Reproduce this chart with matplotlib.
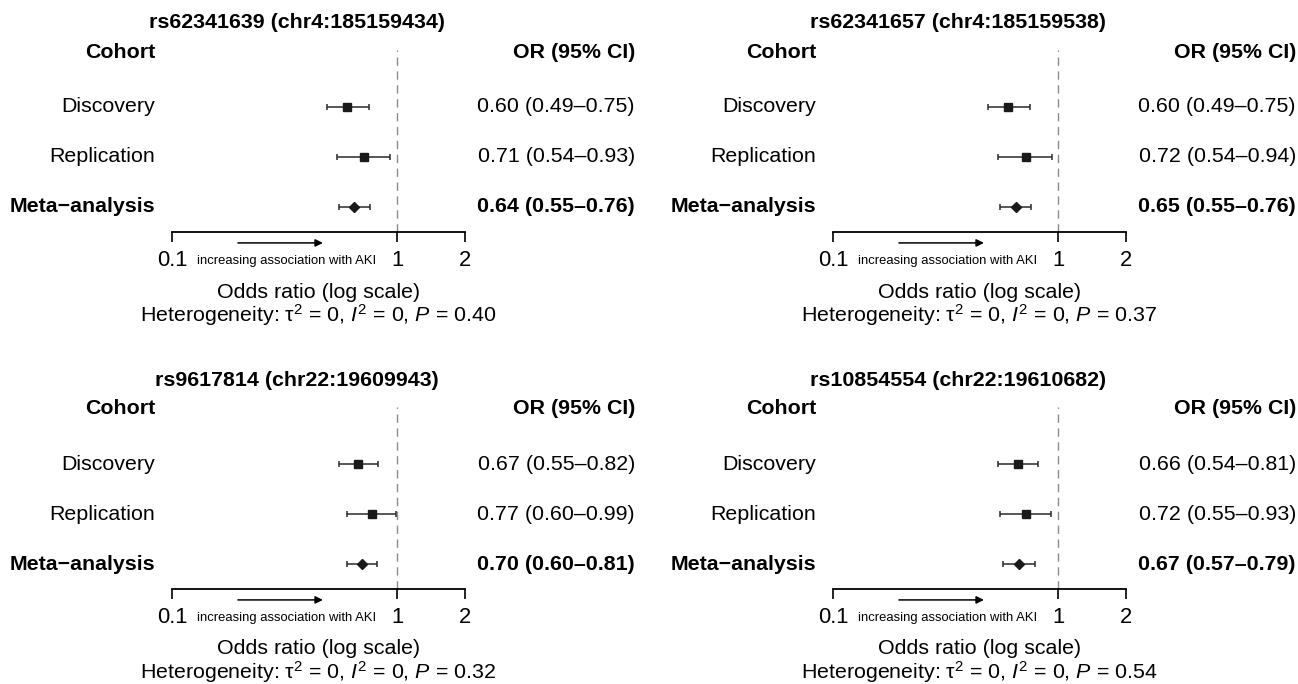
#!/usr/bin/env python3
# coding: utf-8

import matplotlib
matplotlib.use("Agg")
import matplotlib.pyplot as plt

plt.rcParams['font.family'] = ['Liberation Sans', 'DejaVu Sans']
plt.rcParams['mathtext.fontset'] = 'custom'
plt.rcParams['mathtext.rm'] = 'Liberation Sans'
plt.rcParams['mathtext.it'] = 'Liberation Sans:italic'

## data
cohorts = ['Discovery', 'Replication', 'Meta\u2212analysis']
snps = ['rs62341639 (chr4:185159434)', 'rs62341657 (chr4:185159538)',
        'rs9617814 (chr22:19609943)', 'rs10854554 (chr22:19610682)']
or_est = [[0.60, 0.71, 0.64], [0.60, 0.72, 0.65],
          [0.67, 0.77, 0.70], [0.66, 0.72, 0.67]]
or_lo = [[0.49, 0.54, 0.55], [0.49, 0.54, 0.55],
         [0.55, 0.60, 0.60], [0.54, 0.55, 0.57]]
or_hi = [[0.75, 0.93, 0.76], [0.75, 0.94, 0.76],
         [0.82, 0.99, 0.81], [0.81, 0.93, 0.79]]
het_p = ['0.40', '0.37', '0.32', '0.54']
xticks = [0.1, 1, 2]

W, H = 1298, 684
fig = plt.figure(figsize=(W / 100, H / 100), dpi=100)

offsets = [(0, 0), (661, 0), (0, 357), (661, 357)]
fs = 15.4

for k, (dx, dy) in enumerate(offsets):
    # axis area in pixels: x 172..465, y 50..232
    ax = fig.add_axes([(172 + dx) / W, 1 - (232 + dy) / H, 293 / W, 182 / H])
    ax.set_xscale('log')
    ax.set_xlim(0.1, 2)
    ax.set_ylim(2.5, -1.14)
    for s in ['left', 'right', 'top']:
        ax.spines[s].set_visible(False)
    ax.spines['bottom'].set_linewidth(1.3)
    ax.set_yticks([])
    ax.set_xticks(xticks)
    ax.set_xticklabels(['0.1', '1', '2'])
    ax.minorticks_off()
    ax.tick_params(axis='x', direction='out', length=7.2, width=1.2, pad=6, labelsize=15.8)

    ax.axvline(1, color='#8c8c8c', lw=1.0, ls=(0, (6, 4)), zorder=1)

    for i in range(3):
        lo = or_est[k][i] - or_lo[k][i]
        hi = or_hi[k][i] - or_est[k][i]
        ax.errorbar([or_est[k][i]], [i], xerr=[[lo], [hi]], fmt='none',
                    ecolor='#2a2a2a', elinewidth=1.1, capsize=2.2, capthick=1.1, zorder=2)
        if i < 2:
            ax.plot(or_est[k][i], i, marker='s', ms=6.2, color='#1a1a1a', zorder=3)
        else:
            ax.plot(or_est[k][i], i, marker='D', ms=5.6, color='#1a1a1a', zorder=3)

    bt = ax.get_yaxis_transform()
    ax.text(0.427, -1.68, snps[k], transform=bt, ha='center', va='center',
            fontsize=fs, fontweight='bold', clip_on=False)
    ax.text(-0.058, -1.1, 'Cohort', transform=bt, ha='right', va='center',
            fontsize=fs, fontweight='bold', clip_on=False)
    ax.text(1.58, -1.1, 'OR (95% CI)', transform=bt, ha='right', va='center',
            fontsize=fs, fontweight='bold', clip_on=False)
    for i, name in enumerate(cohorts):
        w = 'bold' if i == 2 else 'normal'
        ax.text(-0.058, i, name, transform=bt, ha='right', va='center',
                fontsize=fs, fontweight=w, clip_on=False)
        lab = '%.2f (%.2f\u2013%.2f)' % (or_est[k][i], or_lo[k][i], or_hi[k][i])
        ax.text(1.58, i, lab, transform=bt, ha='right', va='center',
                fontsize=fs, fontweight=w, clip_on=False)

    ax.annotate('', xy=(0.515, -0.06), xytext=(0.225, -0.06), xycoords='axes fraction',
                arrowprops=dict(arrowstyle='-|>', color='black', lw=1.1,
                                mutation_scale=11, shrinkA=0, shrinkB=0))
    ax.text(0.391, -0.16, 'increasing association with AKI', transform=ax.transAxes,
            ha='center', va='center', fontsize=9.4)
    ax.text(0.5, 3.7, 'Odds ratio (log scale)', transform=bt, ha='center', va='center',
            fontsize=fs, clip_on=False)
    ax.text(0.5, 4.16, 'Heterogeneity: \u03c4$^{2}$ = 0, $\\mathit{I}^{2}$ = 0, $\\mathit{P}$ = ' + het_p[k],
            transform=bt, ha='center', va='center', fontsize=fs, clip_on=False)

plt.savefig('out.png', dpi=100)
